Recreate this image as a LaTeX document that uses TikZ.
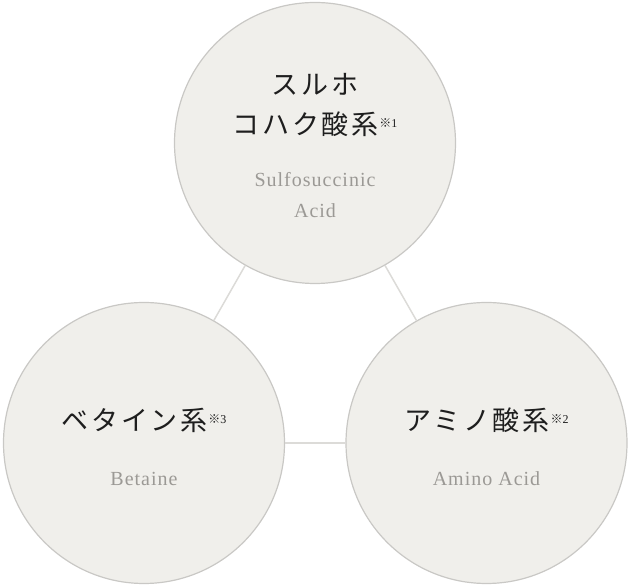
\documentclass[tikz,border=0pt]{standalone}
\usepackage{fontspec}
\usepackage{xcolor}
\usepackage{tikz}
\usetikzlibrary{positioning}
\newfontfamily\jpfont[LetterSpace=10]{Noto Sans CJK JP}
\newfontfamily\enfont[LetterSpace=5]{Liberation Serif}
\definecolor{discfill}{HTML}{F0EFEB}
\definecolor{discline}{HTML}{C9C8C5}
\definecolor{linkline}{HTML}{DCDBD8}
\definecolor{jptext}{HTML}{1E1E1E}
\definecolor{entext}{HTML}{9B9995}
\newcommand{\notemark}[1]{\hspace{1pt}\raisebox{7pt}{\fontsize{12}{12}\selectfont\jpfont ※\enfont #1}}
\begin{document}
\begin{tikzpicture}[
x=1pt,y=1pt,
disc/.style={circle,draw=discline,fill=discfill,line width=1.2pt,minimum size=281pt,inner sep=0pt},
link/.style={draw=linkline,line width=1.5pt},
jp/.style={font=\fontsize{27}{40}\selectfont\jpfont,text=jptext,anchor=base,inner sep=0pt},
en/.style={font=\fontsize{20}{31}\selectfont\enfont,text=entext,anchor=base,inner sep=0pt}
]
\useasboundingbox (0,0) rectangle (630,586);
\node[disc] (sulfo) at (315,443) {};
\node[disc] (betaine) at (144,143) {};
\node[disc] (amino) at (486.5,143) {};
\draw[link] (sulfo)--(betaine);
\draw[link] (sulfo)--(amino);
\draw[link] (betaine)--(amino);
\node[jp] (sulfo-jp1) at ([yshift=48]sulfo.center) {スルホ};
\node[jp] (sulfo-jp2) at ([yshift=8]sulfo.center) {コハク酸系\notemark{1}};
\node[en] (sulfo-en1) at ([yshift=-44]sulfo.center) {Sulfosuccinic};
\node[en] (sulfo-en2) at ([yshift=-75]sulfo.center) {Acid};
\node[jp] (betaine-jp) at ([yshift=12]betaine.center) {ベタイン系\notemark{3}};
\node[en] (betaine-en) at ([yshift=-43]betaine.center) {Betaine};
\node[jp] (amino-jp) at ([yshift=12]amino.center) {アミノ酸系\notemark{2}};
\node[en] (amino-en) at ([yshift=-43]amino.center) {Amino Acid};
\end{tikzpicture}
\end{document}
